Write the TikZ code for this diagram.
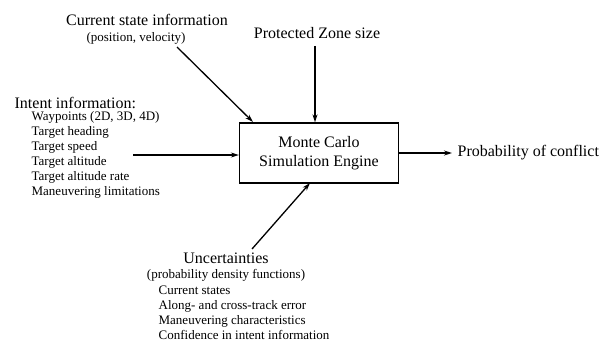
\documentclass[tikz,border=0pt]{standalone}
\usepackage{fontspec}
\setmainfont{Liberation Serif}
\usetikzlibrary{arrows.meta,positioning}

\begin{document}
\begin{tikzpicture}[x=1pt, y=-1pt,
                    >={Stealth[length=8pt,width=5pt]},
                    label/.style={font=\fontsize{16}{18}\selectfont, inner sep=0pt},
                    sublabel/.style={font=\fontsize{13}{15}\selectfont, inner sep=0pt, align=left},
                    every path/.style={line width=1.3pt}]
    \useasboundingbox (0,0) rectangle (612,345);

   \node[draw, minimum width=159pt, minimum height=60pt, align=center,
         font=\fontsize{16}{19}\selectfont] (engine) at (319,153) {Monte Carlo\\Simulation Engine};

   % inputs
   \node[label] (current) at (147,20) {Current state information};
   \node[sublabel] (posvel) at (136,38) {(position, velocity)};
   \node[label] (zone) at (317,33) {Protected Zone size};
   \node[label, anchor=west] (intent) at (14,103) {Intent information:};
   \node[sublabel, anchor=north west] (intentlist) at (31,111)
        {Waypoints (2D, 3D, 4D)\\Target heading\\Target speed\\Target altitude\\Target altitude rate\\Maneuvering limitations};
   \node[label] (uncert) at (226,258) {Uncertainties};
   \node[sublabel] (pdf) at (226,275) {(probability density functions)};
   \node[sublabel, anchor=north west] (uncertlist) at (158,285)
        {Current states\\Along- and cross-track error\\Maneuvering characteristics\\Confidence in intent information};

   % output
   \node[label, anchor=west] (prob) at (457,153) {Probability of conflict};

   % arrow ends
   \coordinate (currentout) at (177,47);
   \coordinate (currentin) at (253,122);
   \coordinate (zoneout) at (315,46);
   \coordinate (intentout) at (133,155);
   \coordinate (uncertout) at (252,249);
   \coordinate (uncertin) at (310,183);

   % Define connections
   \draw[->] (currentout) -- (currentin);
   \draw[->] (zoneout) -- (zoneout |- engine.north);
   \draw[->] (intentout) -- (engine.west |- intentout);
   \draw[->] (uncertout) -- (uncertin);
   \draw[->] (engine.east) -- ([xshift=-5pt]prob.west);

\end{tikzpicture}
\end{document}
